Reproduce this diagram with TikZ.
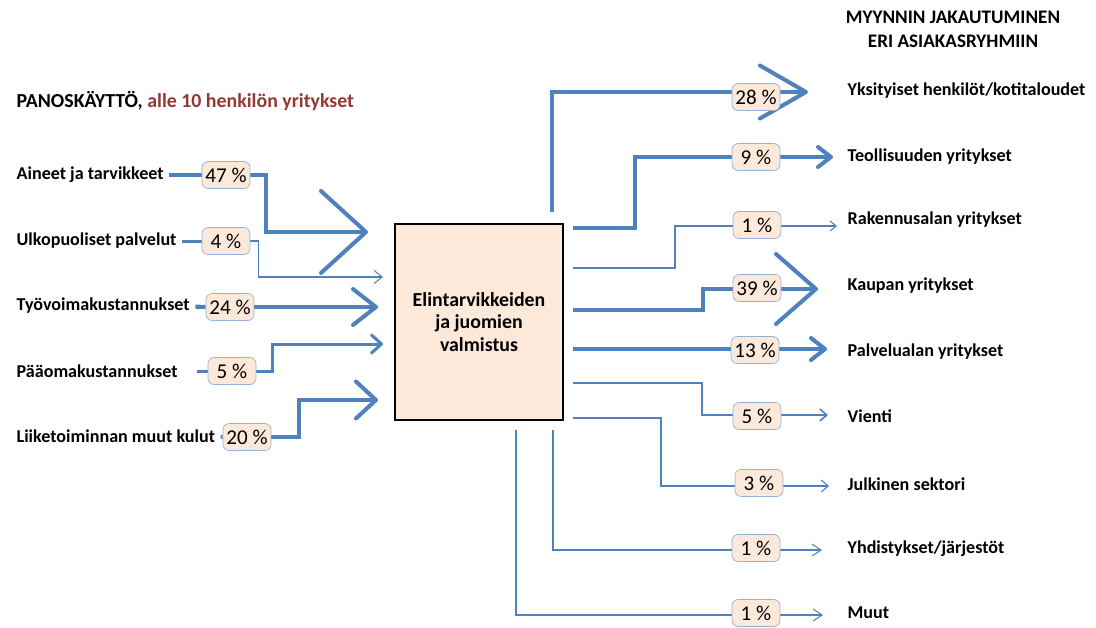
\documentclass[tikz,border=0pt]{standalone}
\usepackage{fontspec}
\setmainfont{Carlito}
\usetikzlibrary{arrows.meta,positioning}
\definecolor{flowblue}{HTML}{4F81BD}
\definecolor{peach}{HTML}{FDE9D9}
\definecolor{pctframe}{HTML}{95B3D7}
\definecolor{darkred}{HTML}{953735}
\pgfdeclarelayer{bg}
\pgfsetlayers{bg,main}
\tikzset{
  lbl/.style={anchor=west,inner ysep=0pt,inner xsep=3pt,font=\fontsize{10.3}{12}\selectfont\bfseries},
  pct/.style={draw=pctframe,fill=peach,rounded corners=3.5pt,minimum width=0.96cm,minimum height=0.54cm,inner sep=0pt,font=\fontsize{12}{14}\selectfont},
  heavyflow/.style={draw=flowblue,line width=2.3pt},
  mediumflow/.style={draw=flowblue,line width=1.7pt},
  slimflow/.style={draw=flowblue,line width=0.9pt},
  hairflow/.style={draw=flowblue,line width=0.6pt},
}
\begin{document}
\begin{tikzpicture}[x=0.02cm,y=-0.02cm]
\useasboundingbox (0,0) rectangle (1096,627);

% otsikot
\node[lbl,font=\fontsize{11.3}{13}\selectfont\bfseries] (inTitle) at (11,101) {PANOSKÄYTTÖ, \textcolor{darkred}{alle 10 henkilön yritykset}};
\node[align=center,inner sep=0pt,font=\fontsize{10.9}{13.6}\selectfont\bfseries] (outTitle) at (953,29) {MYYNNIN JAKAUTUMINEN\\ERI ASIAKASRYHMIIN};

% keskilaatikko
\node[draw=black,fill=peach,line width=0.8pt,minimum width=3.36cm,minimum height=3.92cm,align=center,font=\fontsize{11.3}{13}\selectfont\bfseries] (valm) at (479,322) {Elintarvikkeiden\\ja juomien\\valmistus};

% panokset
\node[lbl] (lAin) at (11,175) {Aineet ja tarvikkeet};
\node[lbl] (lUlk) at (11,241) {Ulkopuoliset palvelut};
\node[lbl] (lTyo) at (11,306) {Työvoimakustannukset};
\node[lbl] (lPaa) at (11,371) {Pääomakustannukset};
\node[lbl] (lLii) at (11,436) {Liiketoiminnan muut kulut};

\node[pct] (pAin) at (226,175) {47 \%};
\node[pct] (pUlk) at (226,241) {4 \%};
\node[pct] (pTyo) at (230,307) {24 \%};
\node[pct] (pPaa) at (232,371) {5 \%};
\node[pct] (pLii) at (247,437) {20 \%};

\coordinate (iAin) at (368,232);
\coordinate (iUlk) at (383,277);
\coordinate (iTyo) at (378,307);
\coordinate (iPaa) at (383,344);
\coordinate (iLii) at (378,400);

% myynti
\node[lbl] (lYks) at (842,91) {Yksityiset henkilöt/kotitaloudet};
\node[lbl] (lTeo) at (842,157) {Teollisuuden yritykset};
\node[lbl] (lRak) at (842,220) {Rakennusalan yritykset};
\node[lbl] (lKau) at (842,286) {Kaupan yritykset};
\node[lbl] (lPal) at (842,352) {Palvelualan yritykset};
\node[lbl] (lVie) at (842,416) {Vienti};
\node[lbl] (lJul) at (842,484) {Julkinen sektori};
\node[lbl] (lYhd) at (842,549) {Yhdistykset/järjestöt};
\node[lbl] (lMuu) at (842,613) {Muut};

\node[pct] (pYks) at (756,97) {28 \%};
\node[pct] (pTeo) at (756,157) {9 \%};
\node[pct] (pRak) at (757,225) {1 \%};
\node[pct] (pKau) at (757,288) {39 \%};
\node[pct] (pPal) at (755,350) {13 \%};
\node[pct] (pVie) at (757,416) {5 \%};
\node[pct] (pJul) at (759,483) {3 \%};
\node[pct] (pYhd) at (756,548) {1 \%};
\node[pct] (pMuu) at (756,613) {1 \%};

\coordinate (oYks) at (552,212);
\coordinate (oTeo) at (573,228);
\coordinate (oRak) at (573,268);
\coordinate (oKau) at (573,310);
\coordinate (oPal) at (573,349);
\coordinate (oVie) at (573,383);
\coordinate (oJul) at (573,418);
\coordinate (oYhd) at (553,430);
\coordinate (oMuu) at (516,430);

\coordinate (eYks) at (808,92);
\coordinate (eTeo) at (833,157);
\coordinate (eRak) at (837,226);
\coordinate (eKau) at (818,289);
\coordinate (ePal) at (827,349);
\coordinate (eVie) at (828,415);
\coordinate (eJul) at (829,486);
\coordinate (eYhd) at (822,550);
\coordinate (eMuu) at (823,615);

\begin{pgfonlayer}{bg}
\draw[heavyflow] (lAin) -- (pAin);
\draw[heavyflow,-{Straight Barb[round,length=0.9cm,width=1.64cm]}] (pAin.east) -- ++(16,0) |- (iAin);
\draw[mediumflow] (lUlk) -- (pUlk);
\draw[hairflow,-{Straight Barb[length=0.16cm,width=0.26cm]}] (pUlk.east) -- ++(8,0) |- (iUlk);
\draw[heavyflow] (lTyo) -- (pTyo);
\draw[heavyflow,-{Straight Barb[round,length=0.46cm,width=0.72cm]}] (pTyo.east) -- (iTyo);
\draw[mediumflow] ([xshift=8pt]lPaa.east) -- (pPaa);
\draw[mediumflow,-{Straight Barb[round,length=0.2cm,width=0.36cm]}] (pPaa.east) -- ++(16,0) |- (iPaa);
\draw[heavyflow] (lLii) -- (pLii);
\draw[heavyflow,-{Straight Barb[round,length=0.4cm,width=0.74cm]}] (pLii.east) -- ++(28,0) |- (iLii);

\draw[heavyflow,-{Straight Barb[round,length=0.92cm,width=1.06cm]}] (oYks) |- (eYks);
\draw[heavyflow,-{Straight Barb[round,length=0.26cm,width=0.4cm]}] (oTeo) -- ++(62,0) |- (eTeo);
\draw[hairflow,-{Straight Barb[length=0.12cm,width=0.2cm]}] (oRak) -- ++(102,0) |- (eRak);
\draw[heavyflow,-{Straight Barb[round,length=0.8cm,width=1.4cm]}] (oKau) -- ++(130,0) |- (eKau);
\draw[heavyflow,-{Straight Barb[round,length=0.28cm,width=0.44cm]}] (oPal) -- (ePal);
\draw[slimflow,-{Straight Barb[length=0.14cm,width=0.24cm]}] (oVie) -- ++(129,0) |- (eVie);
\draw[hairflow,-{Straight Barb[length=0.14cm,width=0.24cm]}] (oJul) -- ++(88,0) |- (eJul);
\draw[hairflow,-{Straight Barb[length=0.18cm,width=0.24cm]}] (oYhd) |- (eYhd);
\draw[hairflow,-{Straight Barb[length=0.18cm,width=0.24cm]}] (oMuu) |- (eMuu);
\end{pgfonlayer}

\end{tikzpicture}
\end{document}
